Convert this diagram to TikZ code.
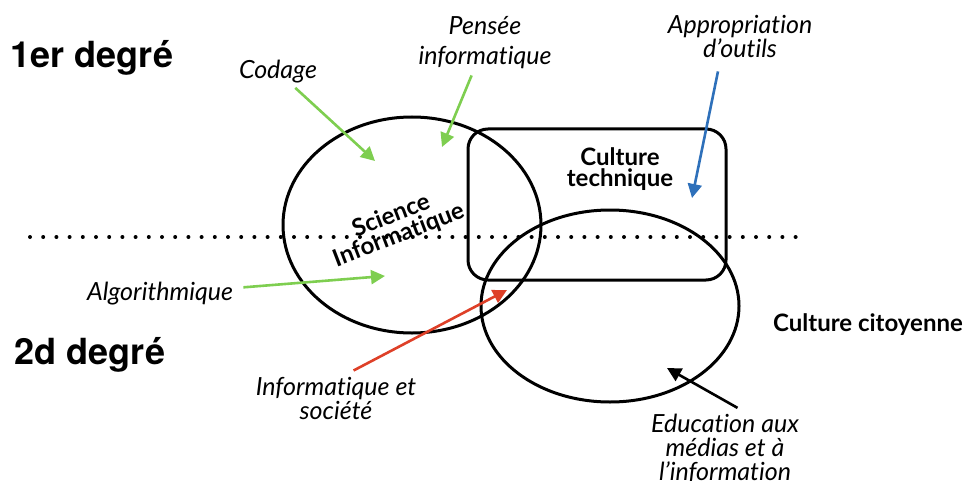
\documentclass[tikz,border=0pt]{standalone}
\usepackage{fontspec}
\setmainfont[Ligatures=NoCommon]{Lato}
\newfontfamily\headfont{TeX Gyre Heros}
\usepackage{tikz}
\usetikzlibrary{arrows.meta}

\definecolor{arrgreen}{RGB}{126,206,80}
\definecolor{arrblue}{RGB}{46,112,186}
\definecolor{arrred}{RGB}{222,64,40}

\tikzset{
  shape line/.style={line width=1.5pt},
  lbl/.style={font=\fontsize{12.5}{12}\selectfont\itshape, align=center, inner sep=2pt},
  title/.style={font=\fontsize{12}{12.5}\selectfont\bfseries, align=center, inner sep=1pt},
  degre/.style={font=\headfont\fontsize{18}{20}\selectfont\bfseries},
  fleche/.style={line width=1.3pt, -{Triangle[length=7pt,width=7pt]}}
}

\begin{document}
\begin{tikzpicture}[x=0.5pt,y=-0.5pt]
    \useasboundingbox (0,0) rectangle (963,481);
    % the two levels
    \node[degre] (premier) at (92,58) {1er degré};
    \node[degre] (second) at (90,355) {2d degré};
    \draw[line width=2pt, line cap=round, dash pattern=on 0pt off 6.6pt] (30,237) -- (800,237);
    % the three domains
    \draw[shape line] (412,225) ellipse [x radius=129, y radius=108];
    \draw[shape line, rounded corners=10pt] (468,129) rectangle (726,280);
    \draw[shape line] (610,306) ellipse [x radius=129, y radius=96];
    \node[title, rotate=21] (science) at (395,226) {Science\\[-2pt]Informatique};
    \node[title] (technique) at (620,169) {Culture\\[-2pt]technique};
    \node[title] (citoyenne) at (868,325) {Culture citoyenne};
    % the labels
    \node[lbl] (codage) at (278,72) {Codage};
    \node[lbl] (pensee) at (485,43) {Pensée\\[3pt]informatique};
    \node[lbl] (algo) at (160,294) {Algorithmique};
    \node[lbl] (appro) at (740,36) {Appropriation\\d’outils};
    \node[lbl] (societe) at (336,398) {Informatique et\\société};
    \node[lbl] (emi) at (725,449) {Education aux\\médias et à\\l’information};
    % arrow tips
    \coordinate (codage tip) at (375,161);
    \coordinate (pensee tip) at (442,147);
    \coordinate (algo tip) at (385,276);
    \coordinate (appro tip) at (692,198);
    \coordinate (societe tip) at (507,290);
    \coordinate (emi tip) at (667,368);
    \draw[fleche, arrgreen] (codage) -- (codage tip);
    \draw[fleche, arrgreen, shorten <=1pt] (pensee) -- (pensee tip);
    \draw[fleche, arrgreen, shorten <=3pt] (algo) -- (algo tip);
    \draw[fleche, arrblue, shorten <=5pt] ([xshift=-10pt]appro.south) -- (appro tip);
    \draw[fleche, arrred, shorten <=2pt] ([xshift=7pt]societe.north) -- (societe tip);
    \draw[fleche, black, shorten <=2pt] ([xshift=8pt]emi.north) -- (emi tip);
\end{tikzpicture}
\end{document}
